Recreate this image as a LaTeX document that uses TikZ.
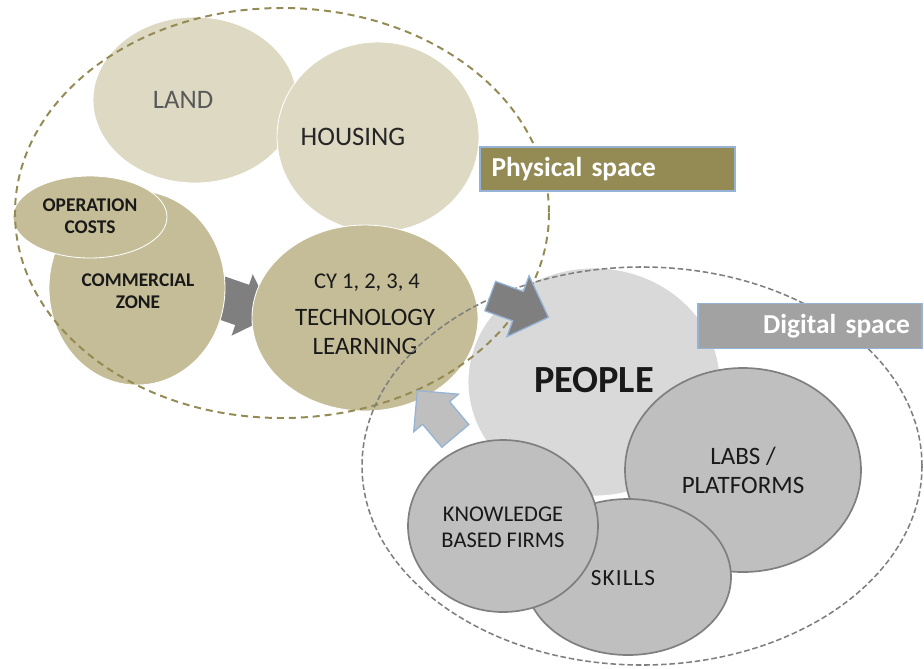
\documentclass[tikz,border=0pt]{standalone}
\usepackage{fontspec}
\setmainfont{Carlito}
\usepackage{tikz}
\usetikzlibrary{shapes.geometric,shapes.arrows}

\definecolor{landfill}{HTML}{DDD9C3}
\definecolor{olivefill}{HTML}{C4BD97}
\definecolor{peoplefill}{HTML}{D9D9D9}
\definecolor{greyfill}{HTML}{BFBFBF}
\definecolor{greyline}{HTML}{7F7F7F}
\definecolor{olivedash}{HTML}{948A54}
\definecolor{boxline}{HTML}{95B3D7}

\newcommand{\fs}[1]{\fontsize{#1}{1.15\dimexpr #1pt\relax}\selectfont}

\begin{document}
\begin{tikzpicture}[x=0.25mm, y=-0.25mm,
    bulle/.style={ellipse, inner sep=0pt, draw=white, line width=0.6pt},
    phys/.style={bulle, fill=landfill},
    olive/.style={bulle, fill=olivefill},
    digi/.style={bulle, fill=greyfill, draw=greyline, line width=1.2pt},
    texte/.style={align=center, inner sep=0pt, text=black!90},
    fleche/.style={single arrow, inner xsep=0pt, shape border uses incircle=false},
    zone/.style={inner sep=0pt, draw=boxline, line width=0.9pt, text=white,
      font=\bfseries\fs{19.5}}]
    \useasboundingbox (0,0) rectangle (924,668);
    % Fleche entre les zones
    \node[fleche, fill=greyline, inner ysep=0.525cm, minimum height=2cm,
      single arrow head extend=0.28cm, rotate=-19] at (225,299) (f1) {};
    % Espace physique
    \node[phys, minimum width=5.1cm, minimum height=4.15cm] at (195,100) (land) {};
    \node[phys, minimum width=5.05cm, minimum height=4.75cm] at (378,137) (housing) {};
    \node[olive, minimum width=4.4cm, minimum height=4.85cm] at (137,288) (commercial) {};
    \node[olive, minimum width=3.85cm, minimum height=2.05cm] at (90,217) (operation) {};
    \node[olive, minimum width=5.65cm, minimum height=4.65cm] at (365,318) (techno) {};
    % Espace digital
    \node[bulle, fill=peoplefill, minimum width=6.3cm, minimum height=5.7cm] at (594,382) (people) {};
    \node[digi, minimum width=5.9cm, minimum height=5.1cm] at (743,470) (labs) {};
    \node[digi, minimum width=5.15cm, minimum height=3.9cm] at (628,577) (skills) {};
    \node[digi, minimum width=4.75cm, minimum height=4.3cm] at (503,526) (knowledge) {};
    % Textes
    \node[texte, text=black!65, font=\fs{19}] at (183,100) (t-land) {LAND};
    \node[texte, text=black!85, font=\fs{19}] at (353,137) (t-housing) {HOUSING};
    \node[texte, font=\bfseries\fs{13.8}] at (90,216) (t-operation) {OPERATION\\COSTS};
    \node[texte, font=\bfseries\fs{13.8}] at (138,291) (t-commercial) {COMMERCIAL\\ZONE};
    \node[texte, font=\fs{16}] at (367,283) (t-cy) {CY 1, 2, 3, 4};
    \node[texte, font=\fs{17.8}] at (365,332) (t-techno) {TECHNOLOGY\\LEARNING};
    \node[texte, font=\bfseries\fs{27.3}] at (594,380) (t-people) {PEOPLE};
    \node[texte, font=\fs{17.8}] at (743,470) (t-labs) {LABS /\\PLATFORMS};
    \node[texte, font=\fs{16}] at (503,527) (t-knowledge) {KNOWLEDGE\\BASED FIRMS};
    \node[texte, font=\fs{16.5}] at (623,578) (t-skills)
      {S\kern0.8pt K\kern0.8pt I\kern0.8pt L\kern0.8pt L\kern0.8pt S};
    % Frontieres des espaces
    \draw[olivedash, line width=1.4pt, dash pattern=on 5pt off 3.5pt]
      (282,213) ellipse [x radius=267, y radius=205];
    \draw[greyline, line width=1.1pt, dash pattern=on 4pt off 2pt]
      (642,466) ellipse [x radius=280, y radius=199];
    % Fleches vers PEOPLE
    \node[fleche, fill=greyline, draw=boxline, line width=0.9pt, inner ysep=0.375cm,
      minimum height=1.55cm, single arrow head extend=0.42cm, rotate=-20] at (512,304) (f2) {};
    \node[fleche, fill=greyfill, draw=boxline, line width=0.9pt, inner ysep=0.425cm,
      minimum height=1.48cm, single arrow head extend=0.29cm, rotate=130] at (442,420) (f3) {};
    % Etiquettes
    \node[zone, fill=olivedash, minimum width=6.375cm, minimum height=1.1cm,
      text width=5.8cm, align=left] at (607.5,169) (physique) {Physical space};
    \node[zone, fill=greyfill!85!black, minimum width=5.6cm, minimum height=1.12cm,
      text width=5.0cm, align=right] at (810,326) (digital) {Digital space};
  \end{tikzpicture}
\end{document}
